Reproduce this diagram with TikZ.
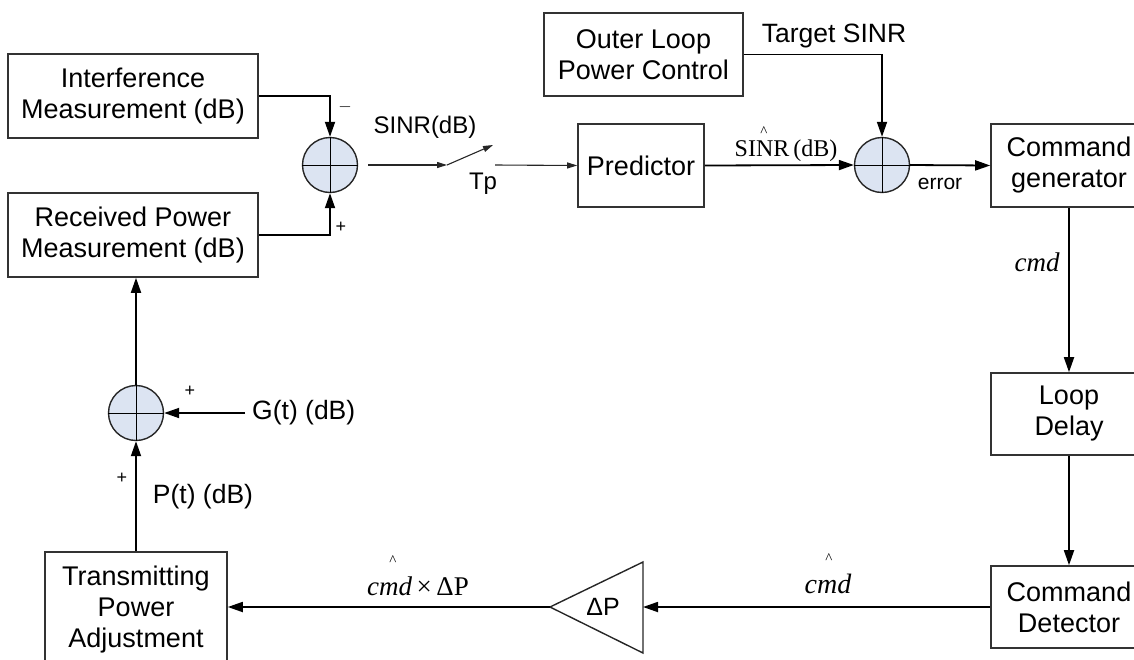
\documentclass[tikz,border=0pt]{standalone}
\usepackage{fontspec}
\setmainfont{Liberation Sans}
\newfontfamily\serifx{Liberation Serif}
\usetikzlibrary{arrows.meta}
\definecolor{sumfill}{RGB}{220,228,242}
\begin{document}
\begin{tikzpicture}[x=1pt,y=-1pt,
  box/.style={draw=black!80, line width=1.6pt, align=center, inner sep=0pt,
    font=\fontsize{27}{31}\selectfont},
  sumc/.style={circle, draw=black!85, line width=1.4pt, fill=sumfill,
    minimum size=55pt, inner sep=0pt},
  conn/.style={line width=1.8pt, -{Triangle[length=15pt,width=10pt]}},
  thinc/.style={line width=1.1pt, black!85, -{Triangle[length=10pt,width=6pt]}},
  lbl/.style={font=\fontsize{24}{28}\selectfont, inner sep=0pt},
  bigl/.style={font=\fontsize{26.5}{30}\selectfont, inner sep=0pt},
  sgn/.style={font=\fontsize{18}{18}\selectfont, inner sep=0pt},
  hatl/.style={font=\serifx\fontsize{15}{15}\selectfont, inner sep=0pt},
  ser/.style={font=\serifx\fontsize{24}{28}\selectfont, inner sep=0pt},
]
\useasboundingbox (0,0) rectangle (1134,659);

% boxes
\node[box, minimum width=250pt, minimum height=84pt] (intf) at (133,96) {Interference\\Measurement (dB)};
\node[box, minimum width=250pt, minimum height=84pt] (recv) at (133,235) {Received Power\\Measurement (dB)};
\node[box, minimum width=199pt, minimum height=83pt] (outer) at (643.5,54.5) {Outer Loop\\Power Control};
\node[box, minimum width=126pt, minimum height=83pt] (pred) at (641,165.5) {Predictor};
\node[box, minimum width=156pt, minimum height=83pt] (cgen) at (1069,165.5) {Command\\generator};
\node[box, minimum width=156pt, minimum height=82pt] (delay) at (1069,414) {Loop\\Delay};
\node[box, minimum width=156pt, minimum height=82pt] (cdet) at (1069,607) {Command\\Detector};
\node[box, minimum width=182pt, minimum height=116pt] (trans) at (136,610) {Transmitting\\Power\\Adjustment};

% summing junctions
\node[sumc] (s1) at (330,165) {};
\node[sumc] (s2) at (882,165) {};
\node[sumc] (s3) at (136,413) {};
\foreach \s in {s1,s2,s3}{
  \draw[line width=1pt] (\s.north) -- (\s.south) (\s.west) -- (\s.east);
}

% amplifier triangle
\coordinate (triR) at (643,607);
\coordinate (triL) at (550,607);
\draw[line width=1.4pt, black!85] (643,562) -- (643,653) -- (triL) -- cycle;
\node[font=\fontsize{25}{28}\selectfont, inner sep=0pt] (dp) at (603,607) {ΔP};

% switch and free ends
\coordinate (s1out) at (368,165);
\coordinate (swA) at (447,165);
\coordinate (swB) at (493,145);
\coordinate (swC) at (495,165);
\coordinate (gin) at (245,413);

% connectors
\draw[conn] (intf.east) -| (s1.north);
\draw[conn] (recv.east) -| (s1.south);
\draw[thinc] (s1out) -- (swA);
\draw[thinc] (swA) -- (swB);
\draw[thinc] (swC) -- (pred.west);
\draw[conn] (pred.east) -- (s2.west);
\draw[conn] (outer.east) -| (s2.north);
\draw[conn] (s2.east) -- (cgen.west);
\draw[conn] (cgen.south) -- (delay.north);
\draw[conn] (delay.south) -- (cdet.north);
\draw[conn] (cdet.west) -- (triR);
\draw[conn] (triL) -- (trans.east |- triL);
\draw[conn] (trans.north) -- (s3.south);
\draw[conn] (gin) -- (s3.east);
\draw[conn] (s3.north) -- (s3.north |- recv.south);

% labels
\node[sgn] (m1) at (345,107) {$-$};
\node[sgn] (p1) at (341,227) {+};
\node[lbl] (sinr) at (425,127) {SINR(dB)};
\node[lbl] (tp) at (483,184) {Tp};
\node[bigl] (tgt) at (834,36) {Target SINR};
\node[ser] (sinrh) at (786,151) {SINR\,(dB)};
\node[hatl] (hat1) at (764,132) {\textasciicircum};
\node[font=\fontsize{21}{24}\selectfont, inner sep=0pt] (err) at (940,184) {error};
\node[font=\serifx\itshape\fontsize{27}{30}\selectfont, inner sep=0pt] (cmd) at (1037,262) {cmd};
\node[font=\serifx\itshape\fontsize{28}{30}\selectfont, inner sep=0pt] (cmdh) at (828,584) {cmd};
\node[hatl] (hat2) at (829,559) {\textasciicircum};
\node[font=\serifx\fontsize{27}{30}\selectfont, inner sep=0pt] (cmdx) at (418,586) {{\itshape cmd}\,×\,ΔP};
\node[hatl] (hat3) at (393,561) {\textasciicircum};
\node[sgn] (p3) at (190,391) {+};
\node[sgn] (p4) at (122,478) {+};
\node[bigl, anchor=west] (gt) at (252,413) {G(t) (dB)};
\node[bigl] (pt) at (203,497) {P(t) (dB)};
\end{tikzpicture}
\end{document}
